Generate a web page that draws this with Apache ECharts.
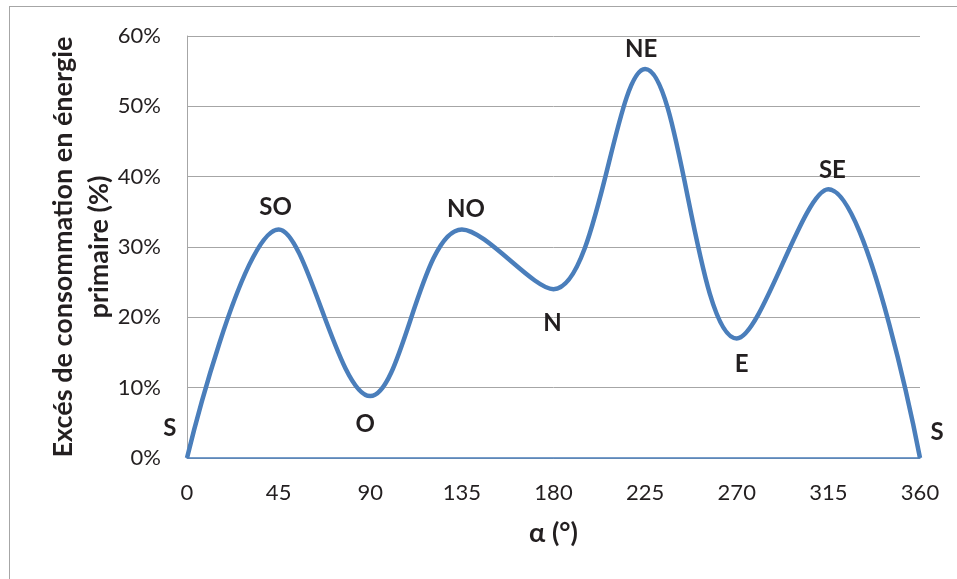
<!DOCTYPE html>
<html><head><meta charset="utf-8">
<script src="https://cdn.jsdelivr.net/npm/echarts@6/dist/echarts.min.js"></script>
<style>html,body{margin:0;padding:0;background:#fff}#c{width:957px;height:579px}
#frame{position:absolute;left:9px;top:6px;width:960px;height:600px;border:1px solid #a6a6a6;pointer-events:none}</style>
</head><body><div id="c"></div><div id="frame"></div>
<script>
const angles = [0, 45, 90, 135, 180, 225, 270, 315, 360];
const values = [0, 0.325, 0.088, 0.325, 0.24, 0.553, 0.17, 0.382, 0];
const pointLabels = ['S', 'SO', 'O', 'NO', 'N', 'NE', 'E', 'SE', 'S'];
const xTicks = [0, 45, 90, 135, 180, 225, 270, 315, 360];
const yTicks = ['0%', '10%', '20%', '30%', '40%', '50%', '60%'];
const yTitle = 'Excés de consommation en énergie\nprimaire (%)';
const xTitle = 'α (°)';

const FONT = 'Lato, "Open Sans", sans-serif';
const labelPlace = [
  {position: 'left', offset: [-5, -30]},
  {position: 'top', offset: [-3, -5]},
  {position: 'bottom', offset: [-5, 11]},
  {position: 'top', offset: [4, -3]},
  {position: 'bottom', offset: [-1, 17]},
  {position: 'top', offset: [-4, -2]},
  {position: 'bottom', offset: [5, 8]},
  {position: 'top', offset: [4, -2]},
  {position: 'right', offset: [5, -26]}
];
const data = angles.map((a, i) => ({
  value: [a, values[i]],
  label: Object.assign({show: true, formatter: pointLabels[i]}, labelPlace[i])
}));

const chart = echarts.init(document.getElementById('c'));
chart.setOption({
  animation: false,
  grid: {left: 187, right: 37, top: 36, bottom: 121},
  graphic: [{
    type: 'text', x: 81, y: 247, rotation: Math.PI / 2,
    style: {text: yTitle, align: 'center', verticalAlign: 'middle', lineHeight: 36,
      font: 'bold 27px ' + FONT, fill: '#231f20'}
  }],
  xAxis: {
    type: 'value', min: 0, max: 360, interval: 45,
    name: xTitle, nameLocation: 'middle', nameGap: 62,
    nameTextStyle: {fontFamily: FONT, fontSize: 27, fontWeight: 'bold', color: '#231f20'},
    axisLine: {show: true, lineStyle: {color: '#4a7ebb', width: 1.5}},
    axisTick: {show: false},
    splitLine: {show: false},
    axisLabel: {fontFamily: FONT, fontSize: 22, color: '#231f20', margin: 24,
      formatter: v => xTicks.includes(v) ? String(v) : ''}
  },
  yAxis: {
    type: 'value', min: 0, max: 0.6, interval: 0.1,
    axisLine: {show: true, lineStyle: {color: '#a6a6a6', width: 1}},
    axisTick: {show: false},
    splitLine: {show: true, lineStyle: {color: '#a6a6a6', width: 1}},
    axisLabel: {fontFamily: FONT, fontSize: 22, color: '#231f20', margin: 26,
      formatter: v => yTicks[Math.round(v * 10)]}
  },
  series: [{
    type: 'line', data: data, smooth: 0.35, symbol: 'circle', symbolSize: 1, showSymbol: true,
    itemStyle: {color: 'rgba(0,0,0,0)'},
    lineStyle: {color: '#4a7ebb', width: 4.5},
    label: {fontFamily: FONT, fontSize: 24, fontWeight: 'bold', color: '#231f20'}
  }]
});
</script></body></html>
